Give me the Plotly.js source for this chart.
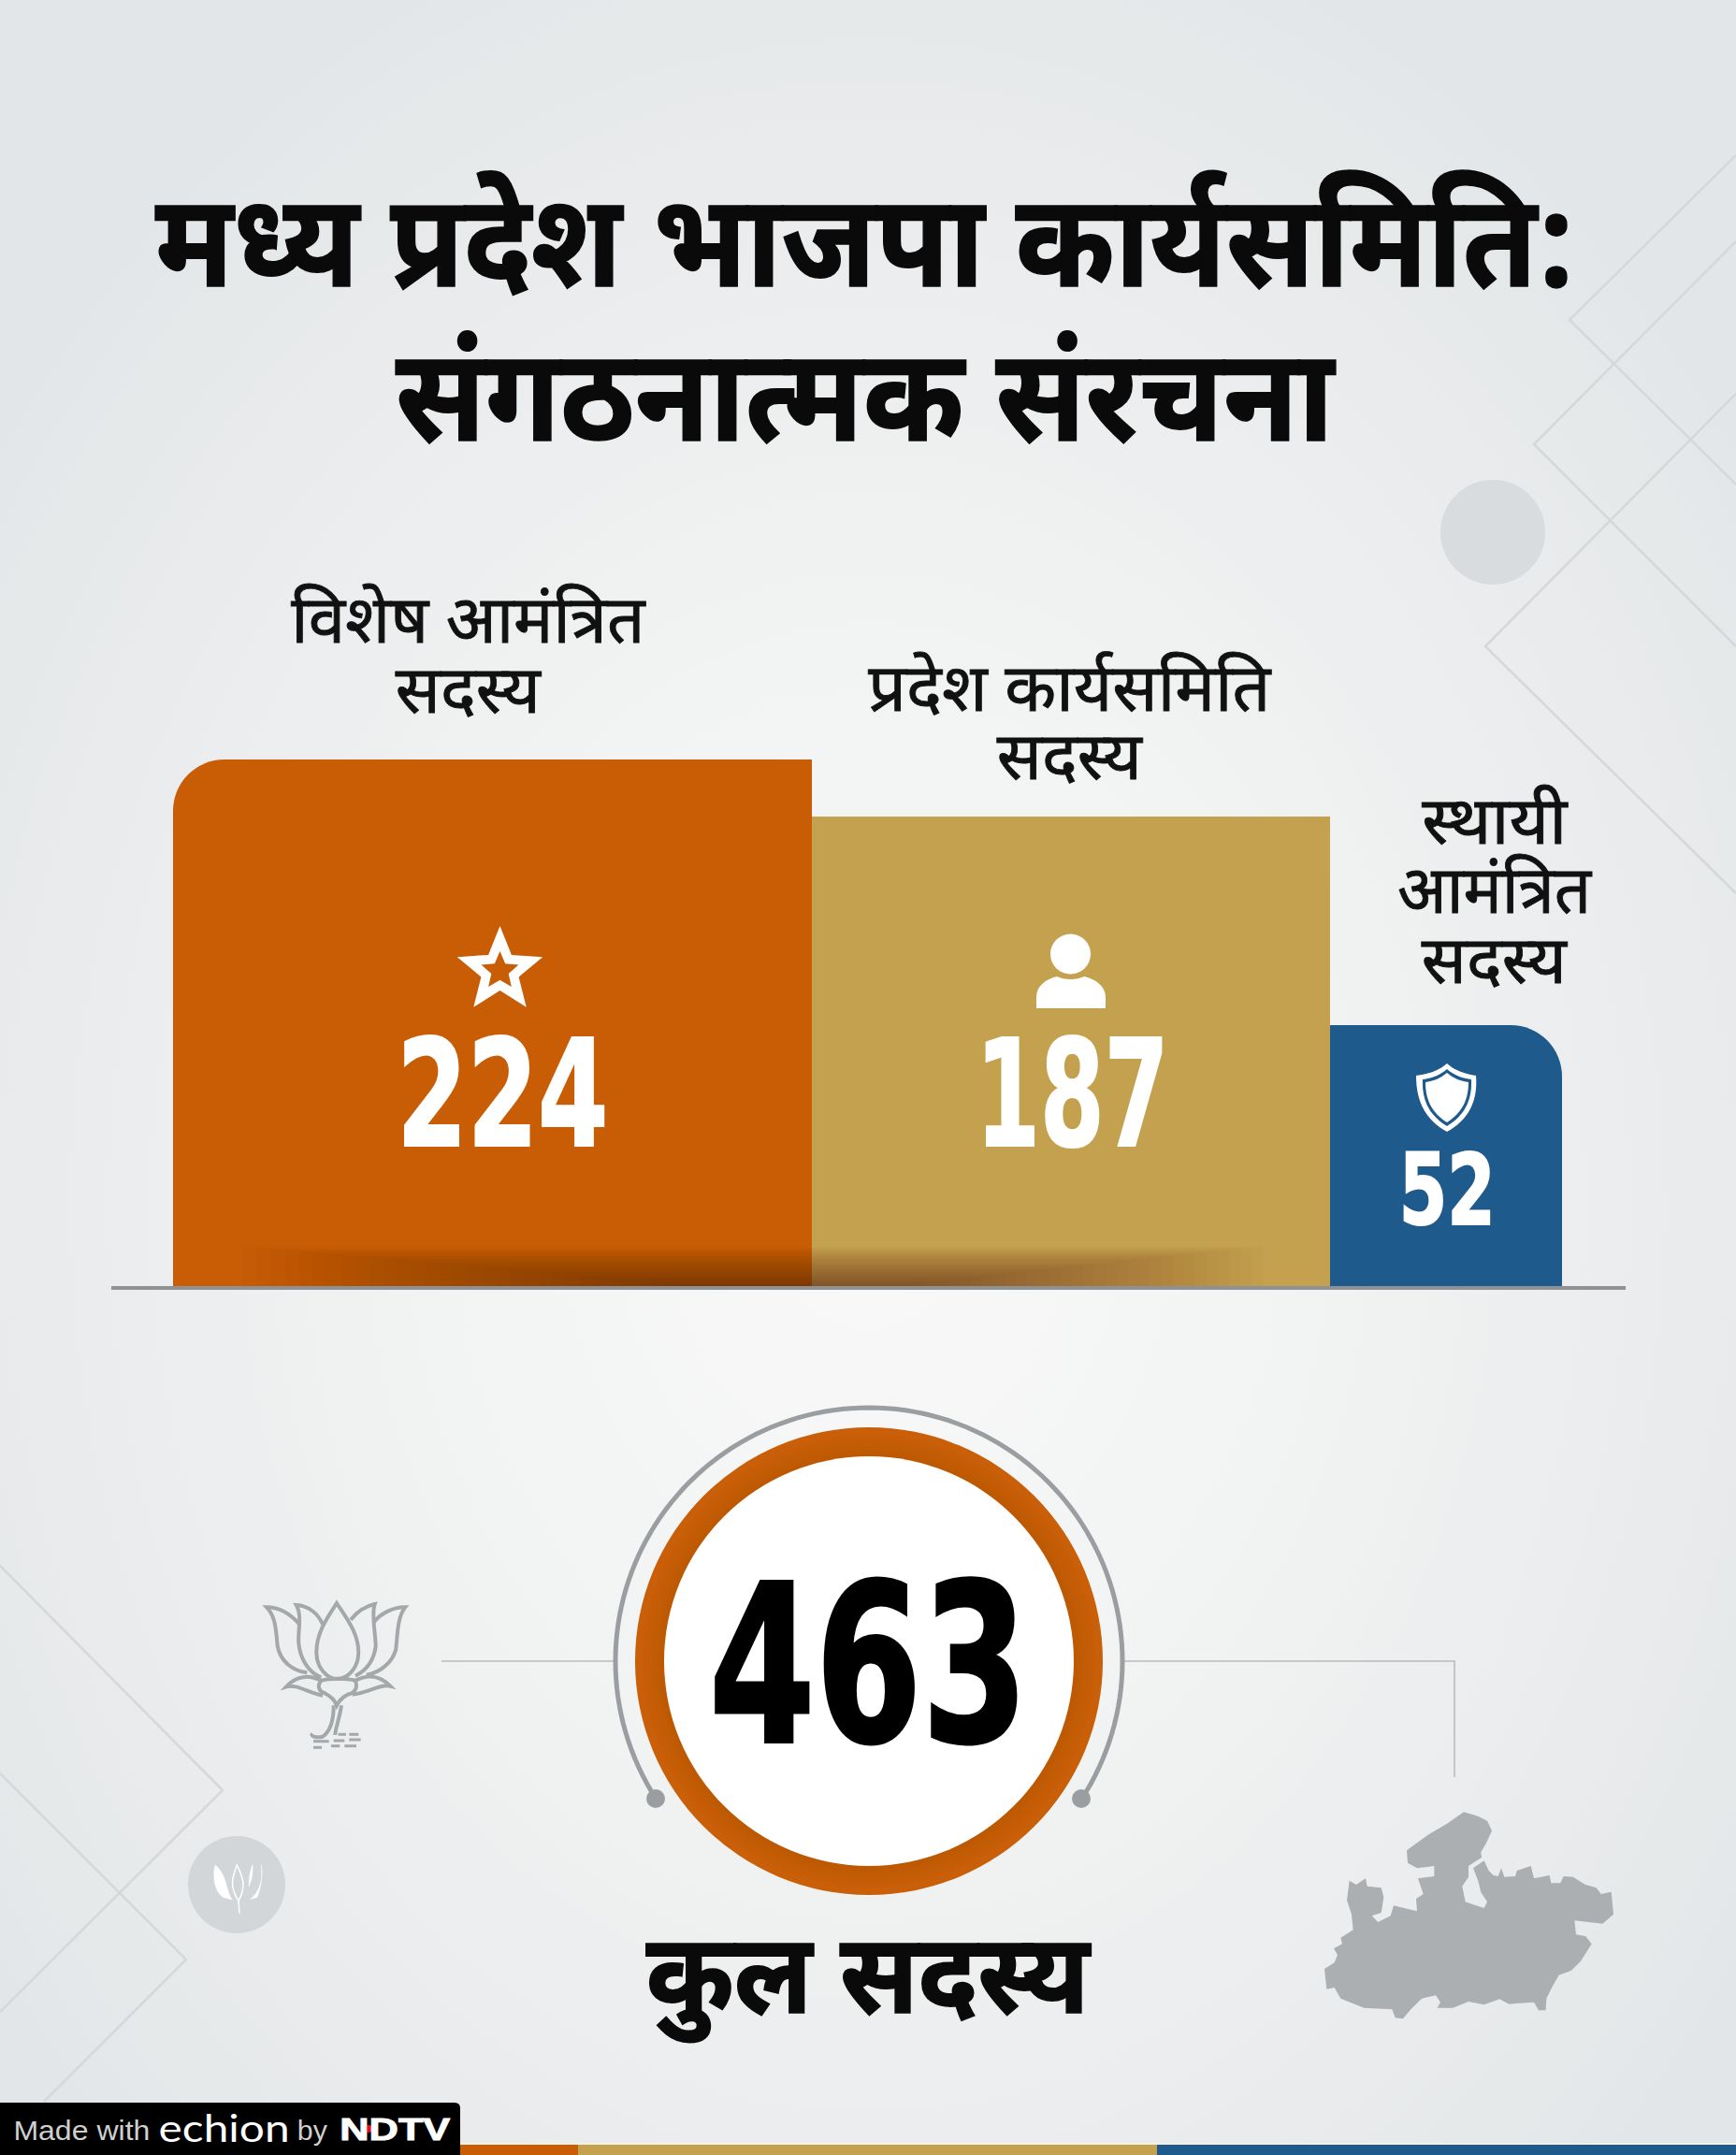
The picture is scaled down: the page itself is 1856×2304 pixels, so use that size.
<!DOCTYPE html>
<html><head><meta charset="utf-8">
<script src="https://cdn.plot.ly/plotly-3.0.1.min.js"></script>
<style>
html,body{margin:0;padding:0;width:1856px;height:2304px;overflow:hidden;
background:radial-gradient(ellipse 1150px 1450px at 50% 56%,#f9f9f9 0%,#f1f2f2 45%,#e3e6e8 100%);}
#c{width:1856px;height:2304px;}
</style></head><body><div id="c"></div>
<script>
// ---- data ----
const categories = ['विशेष आमंत्रित सदस्य','प्रदेश कार्यसमिति सदस्य','स्थायी आमंत्रित सदस्य'];
const values = [224,187,52];
const totalValue = 463;
const titleLines = ['मध्य प्रदेश भाजपा कार्यसमिति:','संगठनात्मक संरचना'];
const categoryLines = [['विशेष आमंत्रित','सदस्य'],['प्रदेश कार्यसमिति','सदस्य'],['स्थायी','आमंत्रित','सदस्य']];
const totalLabel = 'कुल सदस्य';

// ---- geometry / style (separate from the data) ----
const W=1856,H=2304;
const barColors=['#c95d06','#c4a14f','#1e5a8b'];
const barEdges=[185,868,1422,1670];
const yBase=1377, yTop224=812, yTop52=1096;
const pxPerUnit=(yTop52-yTop224)/(values[0]-values[2]);
const baseline=values[2]-(yBase-yTop52)/pxPerUnit;   // value at which the bars' floor sits
const yRange=[baseline-(H-yBase)/pxPerUnit, baseline+yBase/pxPerUnit];
const devFont='"Noto Sans Devanagari","Noto Sans",sans-serif';
const numFont='"DejaVu Sans Condensed","DejaVu Sans",sans-serif';

const shapes=[],ann=[],fits=[];
const px={xref:'x',yref:'y2'};
function line(pts,color,width,extra){shapes.push(Object.assign({type:'path',...px,path:'M'+pts.map(p=>p.join(' ')).join(' L'),line:{color,width},layer:'below'},extra||{}));}
function poly(pts,fill,extra){shapes.push(Object.assign({type:'path',...px,path:'M'+pts.map(p=>p.join(' ')).join(' L')+' Z',fillcolor:fill,line:{width:0},layer:'above'},extra||{}));}
function rect(x0,y0,x1,y1,fill,layer){shapes.push({type:'rect',...px,x0,y0,x1,y1,fillcolor:fill,line:{width:0},layer:layer||'above'});}
function circle(cx,cy,r,fill,lc,lw,layer){shapes.push({type:'circle',...px,x0:cx-r,x1:cx+r,y0:cy-r,y1:cy+r,fillcolor:fill,line:lc?{color:lc,width:lw}:{width:0},layer:layer||'above'});}
function text(t,x,y,size,color,font,weight,fitW,stroke){ann.push({text:t,xref:'x',yref:'y2',x,y,showarrow:false,xanchor:'center',yanchor:'middle',align:'center',font:{family:font,size,color,weight:weight||400}});
  fits.push({w:fitW,stroke,color});}
function mapPath(s,kx,ky,ox,oy){let i=0;return s.replace(/-?\d+(\.\d+)?/g,m=>{const v=+m;return ((i++%2===0)?ox+v/kx:oy+v/ky).toFixed(1);});}
function pathShape(d,color,width,fill,layer){shapes.push({type:'path',...px,path:d,line:{color,width},fillcolor:fill||'rgba(0,0,0,0)',layer:layer||'above'});}

// background geometric lines
const deco='#d5d8da';
[[[1856,166],[1678,342],[1856,518]],[[1856,258],[1640,475],[1856,691]],[[1856,421],[1588,691],[1856,955]],
 [[0,1674],[238,1914],[0,2151]],[[0,1896],[199,2095],[47,2247]]].forEach(p=>line(p,deco,2.5));
circle(1596,569,56,'#d9dcde');
circle(253,2015,52,'#d3d6d8');
// small white lotus inside the left disc
['M 690 925 C 680 960 690 1000 715 1015 L 745 1022 C 725 1000 728 950 690 925 Z',
 'M 838 925 C 845 960 835 1000 803 1020 L 825 1015 C 838 985 842 955 838 925 Z',
 'M 810 925 C 812 945 808 965 798 985 C 800 960 800 945 810 925 Z'].forEach(d=>pathShape(mapPath(d,3,2.613,0,1640),'#fff',0.5,'#fff'));
['M 760 925 C 745 960 735 985 765 1025 C 790 985 780 960 760 925 Z','M 765 1025 L 768 1060'].forEach(d=>pathShape(mapPath(d,3,2.613,0,1640),'#fff',1.5));

// square corners under the rounded bars
[[barEdges[1]-60,yTop224,barEdges[1],yTop224+60,0],[barEdges[0],yBase-60,barEdges[0]+60,yBase,0],[barEdges[1]-60,yBase-60,barEdges[1],yBase,0],
 [barEdges[2],yTop52,barEdges[2]+60,yTop52+60,2],[barEdges[2],yBase-60,barEdges[2]+60,yBase,2],[barEdges[3]-60,yBase-60,barEdges[3],yBase,2]]
 .forEach(r=>rect(r[0],r[1],r[2],r[3],barColors[r[4]],'below'));

// floor shadows: many faint nested layers so the fade has no visible edge
for(let i=0;i<32;i++){
  const top=yBase-44+i*1.3;
  rect(260+i*15,top,barEdges[1],yBase,'rgba(40,15,0,0.013)');
  rect(barEdges[1],top,1350-i*12,yBase,'rgba(40,25,0,0.014)');
}
// floor line
line([[119,yBase],[1738,yBase]],'#8f9294',4,{layer:'above'});

// icons in bars
function star(cx,cy,R,ratio){const p=[];for(let i=0;i<10;i++){const r=i%2?R*ratio:R,a=-Math.PI/2+i*Math.PI/5;p.push([cx+r*Math.cos(a),cy+r*Math.sin(a)]);}return p;}
poly(star(534.5,1038,48,0.44),'#ffffff');
poly(star(534.5,1038,21,0.46),barColors[0]);
circle(1144.5,1020,21.5,'#fff');
pathShape('M1108 1078 L1108 1066 C1108 1054 1118 1047 1130 1044 C1138 1048 1151 1048 1159 1044 C1171 1047 1182 1054 1182 1066 L1182 1078 Z','#fff',0,'#fff');
pathShape('M1547 1137 C1556 1145 1566 1148 1578 1150 C1580 1175 1572 1196 1547 1210 C1522 1196 1514 1175 1514 1150 C1528 1148 1538 1145 1547 1137 Z','#fff',0,'#fff');
pathShape('M1547 1143 C1555 1150 1564 1153 1573 1154 C1574 1175 1567 1192 1547 1204 C1527 1192 1520 1175 1521 1154 C1530 1153 1539 1150 1547 1143 Z',barColors[2],0,barColors[2]);
pathShape('M1547 1147 C1554 1153 1562 1156 1570 1157 C1570 1175 1564 1189 1547 1200 C1530 1189 1524 1175 1524 1157 C1532 1156 1540 1153 1547 1147 Z','#ffffff',0,'#ffffff');

// total ring
const cx=929,cy=1776;
line([[472,cy],[657,cy]],'#b8bcbe',1.6);
line([[1202,cy],[1555,cy],[1555,1900]],'#b8bcbe',1.6);
const arc=[];const a0=Math.atan2(147,-228),a1=Math.atan2(147,227)+2*Math.PI;
for(let i=0;i<=120;i++){const a=a0+(a1-a0)*i/120;arc.push([cx+271*Math.cos(a),cy+271*Math.sin(a)]);}
line(arc,'#9b9ea1',5,{layer:'above'});
circle(701,1923,10,'#9b9ea1');circle(1156,1923,10,'#9b9ea1');
circle(cx,cy,250,'#c95f08');
for(let i=0;i<6;i++) circle(cx,cy,220+i*2,'rgba(0,0,0,0)','rgba(90,30,0,0.018)',4+i*4);
circle(cx,cy,219,'#ffffff');

// lotus
const lotus=['M 540 162 C 505 215 475 260 475 320 C 475 370 510 405 540 405 C 575 405 610 370 610 320 C 610 260 575 215 540 162 Z',
'M 495 230 C 480 195 450 170 410 168 C 430 200 415 250 418 290 C 422 340 450 385 490 400',
'M 585 215 C 605 190 630 172 662 165 C 650 200 665 260 665 300 C 660 340 640 375 600 395',
'M 422 232 C 395 200 360 175 315 175 C 345 205 345 250 350 300 C 360 350 400 380 445 385',
'M 658 225 C 680 195 720 175 760 175 C 735 205 735 260 730 310 C 720 350 680 385 635 392',
'M 490 410 C 450 390 410 395 378 430 C 410 420 450 450 495 458',
'M 600 410 C 640 390 680 395 712 428 C 680 420 640 450 590 455',
'M 490 410 C 475 430 485 445 500 450 C 520 460 535 475 540 490 C 550 470 570 455 590 450 C 605 440 605 425 600 410 C 570 402 520 402 490 410 Z',
'M 530 490 C 530 530 525 570 495 590 C 475 595 455 590 462 580',
'M 555 490 C 550 530 535 565 535 585'];
lotus.forEach(d=>pathShape(mapPath(d,3,3,180,1660),'#a5a8aa',4));
['M 465 605 L 515 605','M 530 603 L 565 603','M 580 600 L 617 600','M 465 625 L 492 625','M 522 620 L 550 620','M 565 620 L 603 620','M 545 583 L 570 583','M 580 583 L 610 583'].forEach(d=>pathShape(mapPath(d,3,3,180,1660),'#a5a8aa',3));

// map of Madhya Pradesh
const mapOutline=[[555,112],[600,125],[630,140],[645,172],[625,215],[610,240],[612,258],[570,285],[570,320],[550,350],[560,400],[590,410],[620,420],[630,400],[610,370],[600,330],[585,292],[620,268],[635,300],[650,315],[665,318],[675,292],[685,320],[720,318],[725,300],[770,285],[780,325],[830,315],[835,340],[865,340],[875,318],[905,320],[945,345],[980,355],[995,375],[1028,368],[1035,440],[1000,470],[910,460],[915,505],[945,510],[965,535],[930,590],[900,620],[860,635],[840,670],[820,710],[818,748],[795,748],[780,722],[730,725],[700,728],[670,712],[620,730],[570,720],[520,740],[470,740],[480,722],[465,700],[420,710],[385,745],[360,775],[335,772],[325,745],[235,740],[160,710],[140,675],[115,680],[108,615],[140,595],[150,570],[138,550],[165,535],[160,515],[200,490],[195,440],[180,395],[188,332],[210,345],[240,325],[245,350],[290,355],[298,385],[290,435],[260,445],[280,465],[320,445],[330,412],[385,425],[405,430],[402,390],[425,375],[408,325],[460,318],[460,285],[405,292],[375,275],[372,235],[440,185],[500,150]];
poly(mapOutline.map(p=>[1380+p[0]/3,1900+p[1]/3]),'#abafb2',{layer:'below'});

// bottom strip and credit
rect(0,2291,W,2293,'#f4f1e4');
rect(0,2293,618,H,barColors[0]);rect(618,2293,1237,H,barColors[1]);rect(1237,2293,W,H,barColors[2]);
pathShape('M0 2248 L486 2248 Q492 2248 492 2254 L492 2304 L0 2304 Z','#000',0,'#000');
circle(394,2276,4,'#e01020');

// texts
const titleY=[272,437], titleW=[1519,1003];
titleLines.forEach((t,i)=>text(t,925,titleY[i],138,'#0a0a0a',devFont,700,titleW[i],1.5));
const catX=[501,1144,1598],catY=[[669,744],[742,815],[884,958,1033]];
const catW=[[378,155],[430,155],[155,207,155]];
categoryLines.forEach((ls,i)=>ls.forEach((l,j)=>text(l,catX[i],catY[i][j],71,'#111',devFont,400,catW[i][j],0.9)));
const numX=[537,1146,1547],numY=[1170,1170,1272],numS=[158,158,106],numW=[226,206,103];
values.forEach((v,i)=>text(String(v),numX[i],numY[i],numS[i],'#ffffff',numFont,700,numW[i],2));
text(String(totalValue),928,1780,236,'#000000',numFont,700,341,3);
text(totalLabel,928,2123,118,'#0a0a0a',devFont,700,474,1.5);
text('Made with',87,2277,30,'#cfcfcf','"Liberation Sans",sans-serif',400,146);
text('echion',239,2275,40,'#ffffff','Lato,"Liberation Sans",sans-serif',400,140);
text('by',334,2277,30,'#cfcfcf','"Liberation Sans",sans-serif',400,32);
text('NDTV',422,2276,34,'#ffffff','"Liberation Sans",sans-serif',700,118,1);

// bars: one trace each, because only the outer two have a rounded corner
const radii=[55,0,55];
const traces=values.map((v,i)=>({type:'bar',name:categories[i],x:[(barEdges[i]+barEdges[i+1])/2],width:[barEdges[i+1]-barEdges[i]],
  y:[v-baseline],base:baseline,marker:{color:barColors[i],cornerradius:radii[i],line:{width:0}},hoverinfo:'skip',showlegend:false}));
traces.push({type:'scatter',x:[0],y:[0],yaxis:'y2',mode:'none',showlegend:false,hoverinfo:'skip'});

Plotly.newPlot('c',traces,{
  width:W,height:H,margin:{l:0,r:0,t:0,b:0,pad:0},paper_bgcolor:'rgba(0,0,0,0)',plot_bgcolor:'rgba(0,0,0,0)',
  barmode:'overlay',showlegend:false,
  xaxis:{range:[0,W],visible:false,fixedrange:true},
  yaxis:{range:yRange,visible:false,fixedrange:true},
  yaxis2:{range:[H,0],visible:false,overlaying:'y',fixedrange:true},
  shapes,annotations:ann
},{displayModeBar:false,staticPlot:true}).then(()=>{
  // condense / embolden the real text so it matches the reference's lettering
  document.querySelectorAll('.annotation text.annotation-text').forEach((el,i)=>{
    const f=fits[i]; if(!f) return;
    if(f.w){el.setAttribute('textLength',f.w);el.setAttribute('lengthAdjust','spacingAndGlyphs');}
    if(f.stroke){el.style.stroke=f.color;el.style.strokeWidth=f.stroke+'px';}
  });
});
</script></body></html>
